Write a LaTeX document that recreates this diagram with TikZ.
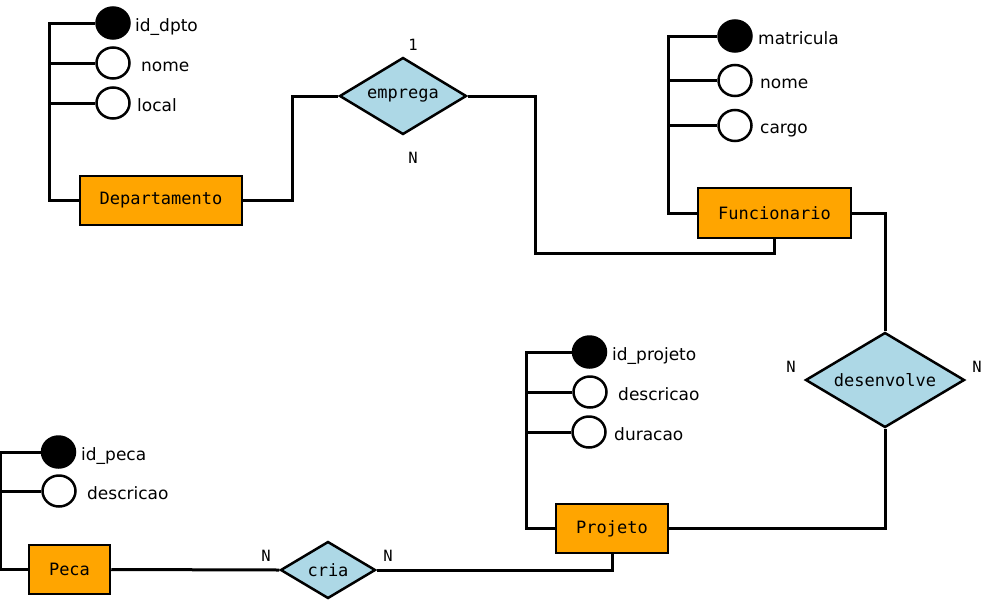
\documentclass[tikz,border=0pt]{standalone}
\usepackage{fontspec}
\setmainfont{DejaVu Sans}
\setmonofont{DejaVu Sans Mono}
\usetikzlibrary{shapes.geometric}
\definecolor{entorange}{HTML}{FFA500}
\definecolor{rellightblue}{HTML}{ADD8E6}
\tikzstyle{entity} = [rectangle,draw,fill=entorange,line width=2.5pt,minimum height=49pt,inner sep=0pt,font=\fontsize{17}{20}\ttfamily]
\tikzstyle{relation} = [diamond,draw,fill=rellightblue,line width=2.5pt,aspect=1.65,inner sep=0pt,font=\fontsize{17}{20}\ttfamily]
\tikzstyle{attr} = [ellipse,draw,line width=2.5pt,minimum width=33pt,minimum height=31pt,inner sep=0pt]
\tikzstyle{keyattr} = [attr,fill=black]
\tikzstyle{attrname} = [anchor=base west,inner sep=0pt,font=\fontsize{17}{20}\selectfont]
\tikzstyle{card} = [inner sep=0pt,font=\fontsize{15.5}{18}\ttfamily]
\tikzstyle{link} = [line width=3pt]

\begin{document}
\begin{tikzpicture}[x=1pt,y=-1pt]
\useasboundingbox (0,0) rectangle (985,600);

\node [entity,minimum width=162pt](dep) at (161,200.5){Departamento};
\node [keyattr](iddpto) at (113,23){};
\node [attr](nomedep) at (113,63){};
\node [attr](localdep) at (113,103){};
\node [attrname](iddptol) at (135,31){id\_dpto};
\node [attrname](nomedepl) at (141,71){nome};
\node [attrname](localdepl) at (137,111){local};

\node [entity,minimum width=153pt,minimum height=50pt](func) at (774.5,213){Funcionario};
\node [keyattr](matricula) at (735,36){};
\node [attr](nomefunc) at (735,80.5){};
\node [attr](cargo) at (735,125.5){};
\node [attrname](matriculal) at (758,44){matricula};
\node [attrname](nomefuncl) at (760,88.5){nome};
\node [attrname](cargol) at (760,133.5){cargo};

\node [entity,minimum width=112pt](proj) at (612,528.5){Projeto};
\node [keyattr](idprojeto) at (589.5,352){};
\node [attr](descproj) at (590,392){};
\node [attr](duracao) at (589,432){};
\node [attrname](idprojetol) at (612,360){id\_projeto};
\node [attrname](descprojl) at (618,400){descricao};
\node [attrname](duracaol) at (614,440){duracao};

\node [entity,minimum width=81pt](peca) at (69.5,569.5){Peca};
\node [keyattr](idpeca) at (58.5,452){};
\node [attr](descpeca) at (59,491){};
\node [attrname](idpecal) at (81,460){id\_peca};
\node [attrname](descpecal) at (87,499){descricao};

\node [relation,minimum width=127pt,minimum height=77pt](emprega) at (403,96){emprega};
\node [relation,minimum width=159pt,minimum height=95pt](desenv) at (885,380){desenvolve};
\node [relation,minimum width=95pt,minimum height=57pt](cria) at (328,570){cria};

\node [card](c1) at (413,45){1};
\node [card](c2) at (413,158){N};
\node [card](c3) at (791,367){N};
\node [card](c4) at (977,367){N};
\node [card](c5) at (266,556){N};
\node [card](c6) at (388,556){N};

\foreach \a in {iddpto,nomedep,localdep}
  \draw[link](dep.west) -- ++(-29,0) |- (\a.west);
\foreach \a in {matricula,nomefunc,cargo}
  \draw[link](func.west) -- ++(-28,0) |- (\a.west);
\foreach \a in {idprojeto,descproj,duracao}
  \draw[link](proj.west) -- ++(-28,0) |- (\a.west);
\foreach \a in {idpeca,descpeca}
  \draw[link](peca.west) -- ++(-27,0) |- (\a.west);

\draw[link](dep.east) -- ++(49,0) |- (emprega.west);
\draw[link](emprega.east) -- ++(68,0) -- ++(0,157) -| (func.south);
\draw[link](func.east) -| (desenv.north);
\draw[link](desenv.south) |- (proj.east);
\draw[link](proj.south) |- (cria.east);
\draw[link](peca.east) -- (cria.west);

\end{tikzpicture}
\end{document}
